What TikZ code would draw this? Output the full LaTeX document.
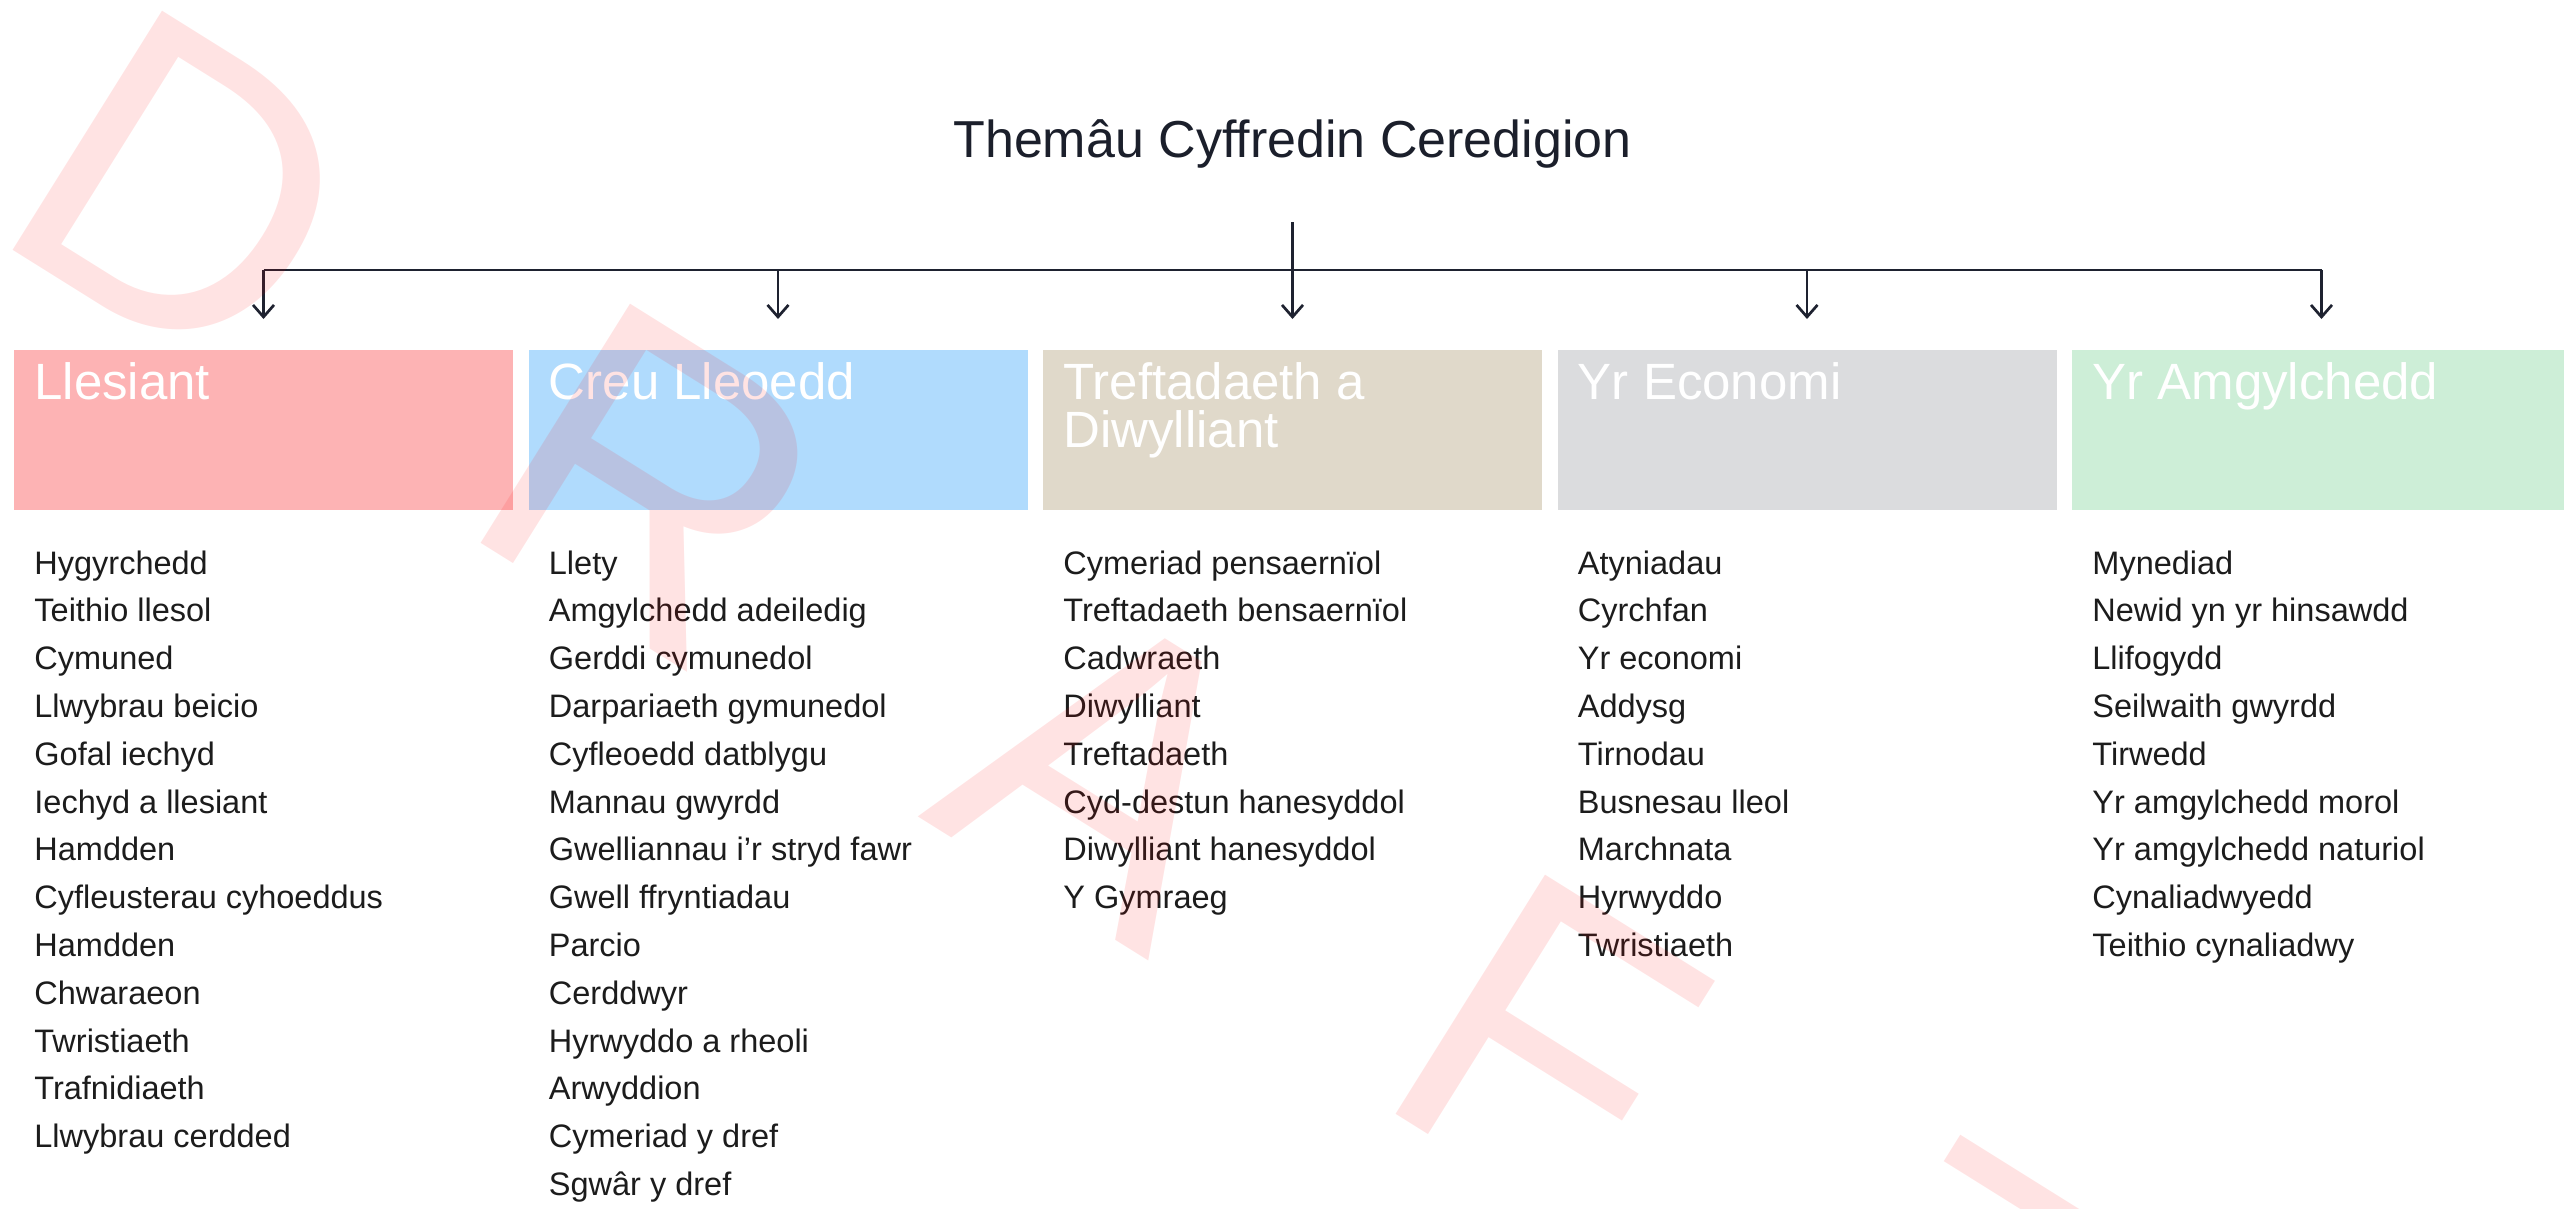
\documentclass[tikz,border=0pt]{standalone}
\usepackage{fontspec}
\setmainfont{Liberation Sans}
\usetikzlibrary{arrows.meta}
\definecolor{titleink}{HTML}{1B1F2B}
\definecolor{itemink}{HTML}{1C1C1C}
\definecolor{linkink}{HTML}{1E2230}
\definecolor{pinkbox}{HTML}{FDB3B4}
\definecolor{bluebox}{HTML}{B0DBFD}
\definecolor{sandbox}{HTML}{E0D9CA}
\definecolor{greybox}{HTML}{DBDCDE}
\definecolor{mintbox}{HTML}{CDEED7}
\newcommand*\boxwd {249.5pt}
\newcommand*\boxht {80pt}
\newcommand*\padx  {10pt}
\newcommand*\rowgap{23.9pt}
\tikzset{
    theme/.style     = {rectangle, minimum width=\boxwd, minimum height=\boxht,
                        inner sep=0pt, outer sep=0pt, anchor=north west},
    pinktheme/.style = {theme, fill=pinkbox},
    bluetheme/.style = {theme, fill=bluebox},
    sandtheme/.style = {theme, fill=sandbox},
    greytheme/.style = {theme, fill=greybox},
    minttheme/.style = {theme, fill=mintbox},
    heading/.style   = {font=\fontsize{25.5pt}{24pt}\selectfont, text=white,
                        inner sep=0pt, anchor=base west, align=left},
    entry/.style     = {font=\fontsize{16.25pt}{19pt}\selectfont, text=itemink,
                        inner sep=0pt, anchor=base west},
    maintitle/.style = {font=\fontsize{26pt}{30pt}\selectfont, text=titleink,
                        inner sep=0pt, anchor=base},
    link/.style      = {draw=linkink, line width=1.35pt},
    drop/.style      = {link, -{Straight Barb[length=6pt,width=10.5pt]}, shorten >=15.5pt},
    wmark/.style     = {font=\fontsize{205pt}{205pt}\selectfont, text=red, text opacity=0.11,
                        inner sep=0pt, outer sep=0pt, anchor=base west, rotate=-32},
  }

\begin{document}
\begin{tikzpicture}[x=0.5pt, y=-0.5pt]
    \path[use as bounding box, fill=white] (0,0) rectangle (2564,1209);

    % The five theme boxes in one row
    \node[pinktheme] (b1) at (14,350)     {};
    \node[bluetheme] (b2) at (528.5,350)  {};
    \node[sandtheme] (b3) at (1043,350)   {};
    \node[greytheme] (b4) at (1557.5,350) {};
    \node[minttheme] (b5) at (2072,350)   {};

    % Headings: top left corner of every box (base = last line)
    \foreach \t/\dy [count=\c from 1] in {Llesiant/-24.5pt, Creu Lleoedd/-24.5pt,
            {Treftadaeth a\\Diwylliant}/-48.5pt, Yr Economi/-24.5pt, Yr Amgylchedd/-24.5pt} {
        \node[heading] (h\c) at ([xshift=\padx, yshift=\dy]b\c.north west) {\t};
    }

    % Title and the tree of arrows
    \node[maintitle] (title) at (b3.north |- 0,158) {Themâu Cyffredin Ceredigion};
    \coordinate (bus) at (b3.north |- 0,270);
    \draw[drop, shorten <=26.5pt] (title.south) -- (b3.north);
    \draw[link] (b1.north |- bus) -- (b5.north |- bus);
    \foreach \i in {1,2,4,5} {
        \draw[drop] (b\i.north |- bus) -- (b\i.north);
    }

    % column 1
    \foreach \t [count=\i from 1] in {Hygyrchedd, Teithio llesol, Cymuned, Llwybrau beicio,
        Gofal iechyd, Iechyd a llesiant, Hamdden, Cyfleusterau cyhoeddus, Hamdden,
        Chwaraeon, Twristiaeth, Trafnidiaeth, Llwybrau cerdded} {
        \node[entry] (e1-\i) at ([xshift=\padx, yshift={-32pt-(\i-1)*\rowgap}]b1.south west) {\t};
    }
    % column 2
    \foreach \t [count=\i from 1] in {Llety, Amgylchedd adeiledig, Gerddi cymunedol,
        Darpariaeth gymunedol, Cyfleoedd datblygu, Mannau gwyrdd, Gwelliannau i’r stryd fawr,
        Gwell ffryntiadau, Parcio, Cerddwyr, Hyrwyddo a rheoli, Arwyddion, Cymeriad y dref,
        Sgwâr y dref} {
        \node[entry] (e2-\i) at ([xshift=\padx, yshift={-32pt-(\i-1)*\rowgap}]b2.south west) {\t};
    }
    % column 3
    \foreach \t [count=\i from 1] in {Cymeriad pensaernïol, Treftadaeth bensaernïol, Cadwraeth,
        Diwylliant, Treftadaeth, Cyd-destun hanesyddol, Diwylliant hanesyddol, Y Gymraeg} {
        \node[entry] (e3-\i) at ([xshift=\padx, yshift={-32pt-(\i-1)*\rowgap}]b3.south west) {\t};
    }
    % column 4
    \foreach \t [count=\i from 1] in {Atyniadau, Cyrchfan, Yr economi, Addysg, Tirnodau,
        Busnesau lleol, Marchnata, Hyrwyddo, Twristiaeth} {
        \node[entry] (e4-\i) at ([xshift=\padx, yshift={-32pt-(\i-1)*\rowgap}]b4.south west) {\t};
    }
    % column 5
    \foreach \t [count=\i from 1] in {Mynediad, Newid yn yr hinsawdd, Llifogydd, Seilwaith gwyrdd,
        Tirwedd, Yr amgylchedd morol, Yr amgylchedd naturiol, Cynaliadwyedd, Teithio cynaliadwy} {
        \node[entry] (e5-\i) at ([xshift=\padx, yshift={-32pt-(\i-1)*\rowgap}]b5.south west) {\t};
    }

    % Watermark, one letter at a time along a slanted baseline
    \foreach \l/\d in {D/0, R/551, A/1100, F/1630, T/2145} {
        \node[wmark] (wm-\l) at ({-15+0.848*\d}, {233+0.53*\d}) {\l};
    }
\end{tikzpicture}
\end{document}
